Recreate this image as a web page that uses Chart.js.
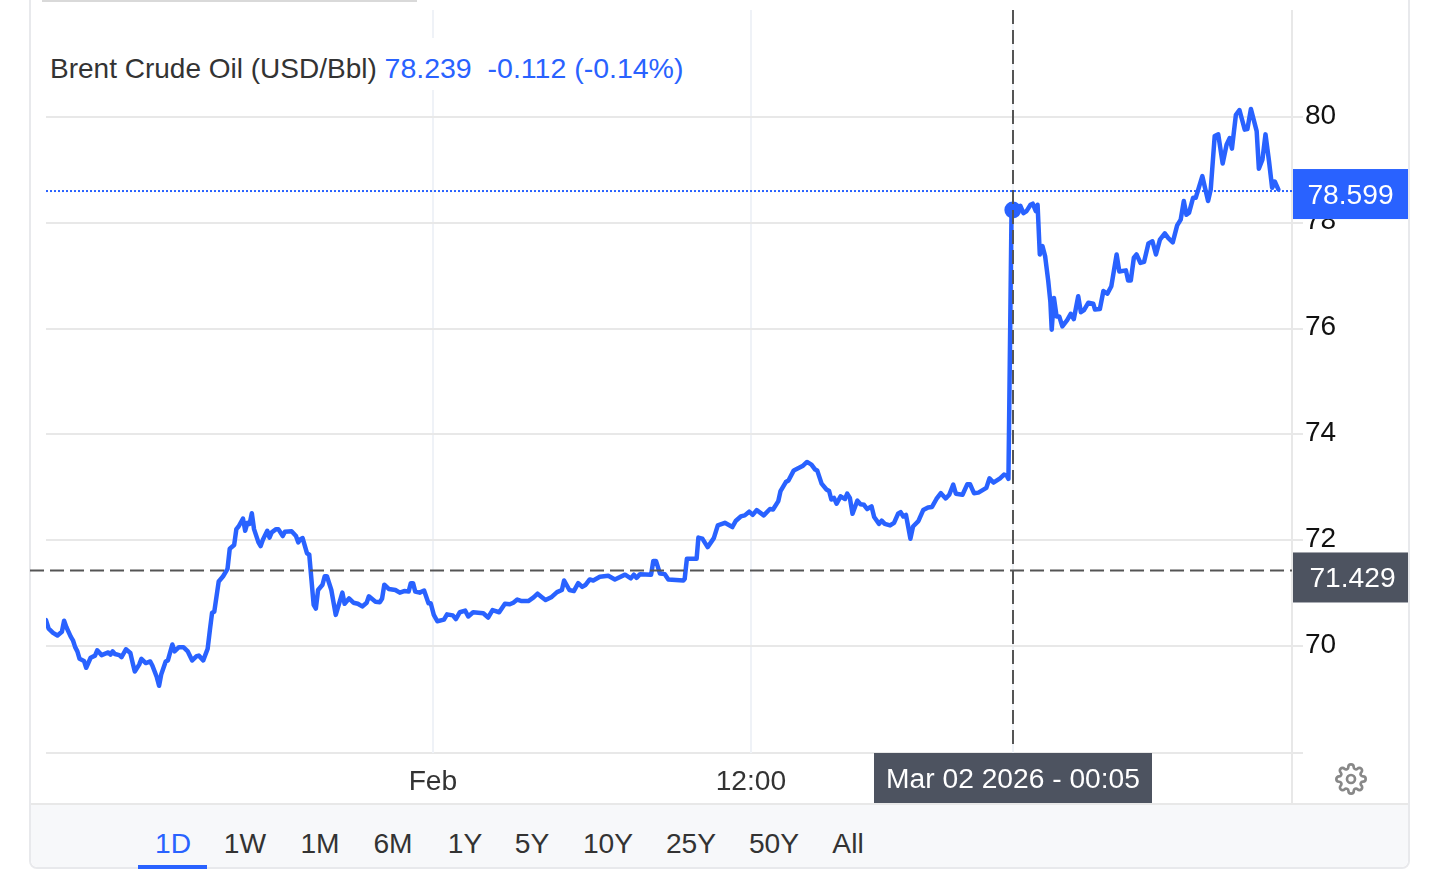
<!DOCTYPE html>
<html>
<head>
<meta charset="utf-8">
<title>Brent Crude Oil</title>
<script src="https://cdn.jsdelivr.net/npm/chart.js@4"></script>
<style>
body { margin: 0; background: #fff; font-family: "Liberation Sans", Arial, sans-serif; }
#wrap { position: relative; width: 1439px; height: 893px; overflow: hidden; }
#card { position: absolute; left: 29px; top: -10px; width: 1377px; height: 875px; border: 2px solid #e8e9ec; border-radius: 8px; }
#tab { position: absolute; left: 42px; top: 0; width: 375px; height: 2px; background: #d9d9d9; }
#yline { position: absolute; left: 1291px; top: 10px; width: 2px; height: 793px; background: #e8e8e8; }
#xline { position: absolute; left: 46px; top: 752px; width: 1257px; height: 2px; background: #e8e8e8; }
#footer { position: absolute; left: 31px; top: 803px; width: 1377px; height: 64px; background: #f7f8fa; border-top: 2px solid #e8e8e8; border-radius: 0 0 7px 7px; box-sizing: border-box; }
#footer span { position: absolute; top: 22px; transform: translateX(-50%); font-size: 28.2px; line-height: 32px; color: #333; }
#footer span.on { color: #2962ff; }
#under { position: absolute; left: 107px; top: 60px; width: 69px; height: 4px; background: #2962ff; }
#chart { position: absolute; left: 0; top: 0; }
#title { position: absolute; left: 46px; top: 38px; height: 52px; line-height: 60px; padding: 0 4px; background: #fff; font-size: 28px; color: #333; white-space: pre; }
#title b { font-weight: normal; font-size: 28.5px; color: #2962ff; }
#gear { position: absolute; left: 1335px; top: 763px; width: 32px; height: 32px; }
</style>
</head>
<body>
<div id="wrap">
  <div id="card"></div>
  <div id="tab"></div>
  <div id="yline"></div>
  <div id="xline"></div>
  <div id="footer"></div>
  <canvas id="chart" width="1439" height="893"></canvas>
  <div id="title">Brent Crude Oil (USD/Bbl) <b>78.239  -0.112 (-0.14%)</b></div>
  <svg id="gear" viewBox="0 0 24 24" fill="none" stroke="#888" stroke-width="2">
    <circle cx="12" cy="12" r="3"></circle>
    <path d="M19.4 15a1.65 1.65 0 0 0 .33 1.82l.06.06a2 2 0 0 1 0 2.83 2 2 0 0 1-2.83 0l-.06-.06a1.65 1.65 0 0 0-1.82-.33 1.65 1.65 0 0 0-1 1.51V21a2 2 0 0 1-2 2 2 2 0 0 1-2-2v-.09A1.65 1.65 0 0 0 9 19.4a1.65 1.65 0 0 0-1.82.33l-.06.06a2 2 0 0 1-2.83 0 2 2 0 0 1 0-2.83l.06-.06a1.65 1.65 0 0 0 .33-1.82 1.65 1.65 0 0 0-1.51-1H3a2 2 0 0 1-2-2 2 2 0 0 1 2-2h.09A1.65 1.65 0 0 0 4.6 9a1.65 1.65 0 0 0-.33-1.82l-.06-.06a2 2 0 0 1 0-2.83 2 2 0 0 1 2.83 0l.06.06a1.65 1.65 0 0 0 1.82.33H9a1.65 1.65 0 0 0 1-1.51V3a2 2 0 0 1 2-2 2 2 0 0 1 2 2v.09a1.65 1.65 0 0 0 1 1.51 1.65 1.65 0 0 0 1.82-.33l.06-.06a2 2 0 0 1 2.83 0 2 2 0 0 1 0 2.83l-.06.06a1.65 1.65 0 0 0-.33 1.82V9a1.65 1.65 0 0 0 1.51 1H21a2 2 0 0 1 2 2 2 2 0 0 1-2 2h-.09a1.65 1.65 0 0 0-1.51 1z"></path>
  </svg>
</div>
<script>
// minutes relative to the "Feb" tick
const times = [
  -876,-870,-860,-850,-840,-835,-830,-820,-815,-810,-805,-800,-790,-785,-775,-765,-760,-750,-735,-730,
  -725,-720,-710,-705,-695,-685,-680,-675,-665,-660,-650,-640,-635,-625,-620,-615,-605,-600,-590,-585,
  -575,-565,-555,-545,-535,-530,-520,-510,-505,-500,-495,-485,-475,-465,-460,-450,-445,-440,-430,-425,
  -420,-415,-410,-405,-395,-390,-385,-375,-370,-365,-355,-350,-340,-335,-320,-310,-305,-300,-295,-285,
  -280,-270,-265,-260,-250,-245,-240,-230,-220,-205,-200,-190,-180,-170,-160,-150,-145,-130,-120,-115,
  -110,-100,-85,-75,-65,-55,-50,-45,-40,-30,-20,-10,-5,2,10,25,32,45,52,61,
  73,80,91,114,125,135,150,163,174,182,191,201,216,228,237,246,255,269,281,292,
  297,309,319,329,338,346,355,363,378,397,412,435,448,455,461,469,494,499,505,514,
  525,533,567,570,575,597,601,610,622,636,645,661,678,686,697,706,716,724,733,749,
  763,770,782,787,799,805,817,829,838,847,857,865,870,880,891,897,902,908,914,923,
  933,938,944,950,961,968,976,983,993,999,1010,1016,1023,1035,1044,1053,1059,1065,1071,1076,
  1081,1087,1099,1110,1121,1130,1140,1150,1161,1169,1178,1184,1199,1210,1216,1225,1235,1253,1260,1269,
  1284,1293,1299,1303,1310,1313,1321,1325,1330,1337,1344,1353,1358,1365,1369,1374,1380,1386,1393,1398,
  1401,1406,1412,1418,1425,1436,1444,1451,1461,1467,1474,1484,1495,1499,1510,1518,1527,1536,1548,1554,
  1569,1574,1580,1587,1593,1602,1610,1620,1629,1637,1646,1657,1665,1675,1685,1693,1700,1706,1712,1721,
  1727,1742,1755,1761,1770,1778,1788,1797,1804,1809,1818,1826,1838,1844,1852,1865,1870,1878,1885,1893,
  1900,1906,1914
];
const prices = [
  70.49,70.33,70.25,70.20,70.27,70.48,70.36,70.18,70.11,69.98,69.90,69.76,69.72,69.59,69.78,69.82,69.92,69.83,69.88,69.84,
  69.90,69.85,69.83,69.79,69.94,69.87,69.69,69.52,69.65,69.76,69.68,69.71,69.63,69.41,69.25,69.47,69.71,69.73,70.03,69.90,
  69.98,69.98,69.90,69.73,69.81,69.82,69.73,69.95,70.30,70.63,70.65,71.22,71.32,71.46,71.84,71.91,72.21,72.26,72.41,72.18,
  72.33,72.31,72.51,72.21,71.96,71.89,72.01,72.18,72.05,72.15,72.21,72.21,72.08,72.16,72.17,72.08,71.96,72.02,72.04,71.75,
  71.73,70.78,70.71,71.06,71.16,71.32,71.32,71.06,70.59,71.01,70.80,70.90,70.82,70.80,70.75,70.82,70.94,70.84,70.83,70.90,
  71.16,71.08,71.06,71.01,71.04,71.03,71.19,71.19,71.03,71.01,71.05,70.81,70.81,70.59,70.47,70.50,70.60,70.58,70.51,70.64,
  70.67,70.56,70.64,70.62,70.54,70.68,70.64,70.80,70.79,70.82,70.88,70.85,70.85,70.92,70.99,70.93,70.87,70.93,71.02,71.06,
  71.24,71.06,71.04,71.19,71.12,71.16,71.26,71.24,71.31,71.33,71.26,71.35,71.28,71.35,71.29,71.36,71.35,71.61,71.61,71.37,
  71.36,71.26,71.24,71.27,71.65,71.65,72.05,72.03,71.87,72.04,72.28,72.33,72.25,72.37,72.45,72.47,72.54,72.48,72.57,72.47,
  72.59,72.58,72.74,72.93,73.10,73.13,73.32,73.37,73.41,73.48,73.43,73.34,73.32,73.07,72.96,72.93,72.77,72.80,72.69,72.83,
  72.78,72.88,72.80,72.50,72.75,72.68,72.67,72.59,72.64,72.44,72.31,72.37,72.31,72.28,72.33,72.50,72.53,72.45,72.48,72.26,
  72.03,72.26,72.36,72.57,72.62,72.63,72.78,72.89,72.79,72.86,73.05,72.88,72.86,73.06,73.06,72.89,72.90,72.99,73.17,73.09,
  73.17,73.24,73.22,73.16,78.20,78.239,78.32,78.28,78.32,78.18,78.22,78.34,78.36,78.22,78.34,77.40,77.56,77.37,76.91,76.50,
  75.98,76.58,76.23,76.23,76.04,76.16,76.28,76.18,76.61,76.31,76.35,76.49,76.47,76.36,76.37,76.71,76.66,76.80,77.40,77.08,
  77.10,76.91,76.91,77.34,77.40,77.24,77.26,77.61,77.65,77.40,77.68,77.80,77.71,77.63,77.95,78.06,78.41,78.15,78.19,78.47,
  78.47,78.88,78.41,78.63,79.64,79.67,79.12,79.48,79.60,79.40,80.04,80.13,79.76,79.77,80.15,79.73,79.02,79.19,79.67,79.16,
  78.66,78.78,78.63
];
const yTicks = [70, 72, 74, 76, 78, 80];
const xTicks = [0, 720, 1313];
const xLabels = ['Feb', '12:00', ''];
const rangeLabels = ['1D', '1W', '1M', '6M', '1Y', '5Y', '10Y', '25Y', '50Y', 'All'];
const rangeCenters = [142, 214, 289, 362, 434, 501, 577, 660, 743, 817];

const hoverTime = 1313;
const hoverPrice = 78.239;
const crossPrice = 71.429;
const lastPrice = 78.599;
const hoverLabel = 'Mar 02 2026 - 00:05';

const blue = '#2962ff';
const slate = '#4d5360';
const font = '"Liberation Sans", Arial, sans-serif';

const footer = document.getElementById('footer');
rangeLabels.forEach((r, i) => {
    const s = document.createElement('span');
    s.textContent = r;
    s.style.left = rangeCenters[i] + 'px';
    if (i === 0) s.className = 'on';
    footer.appendChild(s);
});
const under = document.createElement('div');
under.id = 'under';
footer.appendChild(under);

function tag(ctx, text, x, y, w, h, color, shift) {
    ctx.fillStyle = color;
    ctx.fillRect(x, y, w, h);
    ctx.fillStyle = '#fff';
    ctx.font = '28.2px ' + font;
    ctx.textAlign = 'center';
    ctx.textBaseline = 'middle';
    ctx.fillText(text, x + w / 2 + shift, y + h / 2 + 2);
}

const overlays = {
    id: 'overlays',
    afterDatasetsDraw(chart) {
        const { ctx, scales: { x, y }, chartArea: area } = chart;
        const cx = Math.round(x.getPixelForValue(hoverTime));
        const cy = y.getPixelForValue(crossPrice);
        const ly = y.getPixelForValue(lastPrice);
        ctx.save();

        ctx.strokeStyle = blue;
        ctx.lineWidth = 2;
        ctx.setLineDash([2, 2]);
        ctx.beginPath();
        ctx.moveTo(area.left, ly);
        ctx.lineTo(area.right, ly);
        ctx.stroke();

        ctx.strokeStyle = '#555';
        ctx.lineWidth = 2;
        ctx.setLineDash([14, 6]);
        ctx.beginPath();
        ctx.moveTo(30, cy);
        ctx.lineTo(area.right, cy);
        ctx.moveTo(cx, area.top);
        ctx.lineTo(cx, area.bottom - 5);
        ctx.stroke();

        ctx.setLineDash([]);
        tag(ctx, lastPrice.toFixed(3), area.right + 1, ly - 22, 115, 50, blue, 0);
        tag(ctx, crossPrice.toFixed(3), area.right + 1, cy - 18, 115, 50, slate, 2);
        tag(ctx, hoverLabel, cx - 139, area.bottom, 278, 50, slate, 0);
        ctx.restore();
    }
};

new Chart(document.getElementById('chart'), {
    type: 'line',
    data: {
        datasets: [
            {
                data: [{ x: hoverTime, y: hoverPrice }],
                pointRadius: 8.5,
                pointBackgroundColor: blue,
                pointBorderWidth: 0,
                showLine: false,
            },
            {
                data: times.map((t, i) => ({ x: t, y: prices[i] })),
                borderColor: blue,
                borderWidth: 4.5,
                borderJoinStyle: 'round',
                borderCapStyle: 'round',
                pointRadius: 0,
                tension: 0,
            },
        ],
    },
    options: {
        responsive: false,
        animation: false,
        layout: { padding: { left: 46, top: 10, right: 0, bottom: 0 } },
        plugins: { legend: { display: false }, tooltip: { enabled: false } },
        scales: {
            x: {
                type: 'linear',
                min: -876,
                max: 1945,
                afterBuildTicks: (s) => { s.ticks = xTicks.map((v) => ({ value: v })); },
                afterFit: (s) => { s.height = 140; s.paddingLeft = 0; s.paddingRight = 0; },
                border: { display: false },
                grid: { color: '#eff2f7', lineWidth: 2, drawTicks: false },
                ticks: {
                    autoSkip: false,
                    maxRotation: 0,
                    padding: 12,
                    color: '#333',
                    font: { family: font, size: 28.2 },
                    callback: (v, i) => xLabels[i],
                },
            },
            y: {
                position: 'right',
                min: 67.98,
                max: 82.02,
                afterBuildTicks: (s) => { s.ticks = yTicks.map((v) => ({ value: v })); },
                afterFit: (s) => { s.width = 147; s.paddingTop = 0; s.paddingBottom = 0; },
                border: { display: false },
                grid: { color: '#e8e8e8', lineWidth: 2, tickLength: 11 },
                ticks: {
                    padding: 2,
                    labelOffset: -1,
                    color: '#111',
                    font: { family: font, size: 28 },
                },
            },
        },
    },
    plugins: [overlays],
});
</script>
</body>
</html>
